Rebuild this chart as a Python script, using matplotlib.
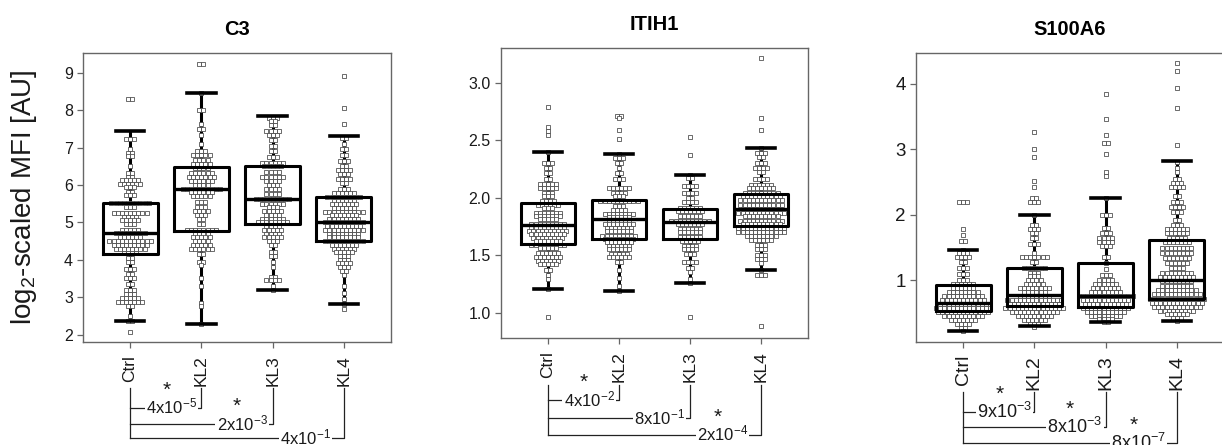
import matplotlib
matplotlib.use('Agg')
import matplotlib.pyplot as plt
import numpy as np

plt.rcParams['font.family'] = ['Liberation Sans', 'DejaVu Sans']
plt.rcParams['mathtext.fontset'] = 'custom'
plt.rcParams['mathtext.rm'] = 'Liberation Sans'
plt.rcParams['mathtext.default'] = 'regular'

groups = ['Ctrl', 'KL2', 'KL3', 'KL4']
titles = ['C3', 'ITIH1', 'S100A6']

# box statistics: lower whisker, Q1, median, Q3, upper whisker
c3_box = [[2.36, 4.16, 4.72, 5.51, 7.44],
          [2.27, 4.76, 5.89, 6.47, 8.46],
          [3.18, 4.96, 5.63, 6.51, 7.85],
          [2.82, 4.49, 5.00, 5.68, 7.32]]
itih1_box = [[1.21, 1.60, 1.76, 1.95, 2.40],
             [1.19, 1.64, 1.81, 1.98, 2.38],
             [1.26, 1.64, 1.79, 1.90, 2.20],
             [1.37, 1.75, 1.90, 2.03, 2.43]]
s100a6_box = [[0.23, 0.53, 0.66, 0.93, 1.47],
              [0.30, 0.61, 0.78, 1.19, 2.00],
              [0.36, 0.60, 0.76, 1.27, 2.25],
              [0.38, 0.71, 1.01, 1.61, 2.82]]

# beeswarm rows: value of each row and number of points in it (per group)
c3_values = [
    [8.29, 7.24, 6.95, 6.85, 6.77, 6.5, 6.33, 6.22, 6.12, 6.03, 5.95, 5.8, 5.72, 5.52, 5.42, 5.25, 5.15,
     5.05, 4.95, 4.8, 4.72, 4.62, 4.5, 4.4, 4.3, 4.18, 4.05, 3.95, 3.75, 3.62, 3.5, 3.35, 3.2, 3.08,
     2.97, 2.88, 2.75, 2.5, 2.36, 2.06],
    [9.24, 8.46, 8.0, 7.62, 7.5, 7.35, 7.1, 6.9, 6.8, 6.68, 6.56, 6.45, 6.32, 6.2, 6.1, 6.0, 5.9, 5.8, 5.7,
     5.55, 5.42, 5.3, 5.2, 5.1, 4.95, 4.8, 4.7, 4.6, 4.5, 4.4, 4.3, 4.15, 3.95, 3.85, 3.5, 3.3, 2.85,
     2.75, 2.27],
    [7.8, 7.7, 7.6, 7.45, 7.35, 7.2, 7.05, 6.9, 6.75, 6.6, 6.5, 6.35, 6.2, 6.1, 6.0, 5.9, 5.75, 5.63, 5.5,
     5.4, 5.3, 5.2, 5.1, 5.0, 4.9, 4.8, 4.7, 4.6, 4.5, 4.4, 4.2, 4.1, 3.95, 3.8, 3.55, 3.45, 3.3, 3.18],
    [8.92, 8.07, 7.62, 7.25, 7.1, 6.95, 6.8, 6.65, 6.5, 6.4, 6.3, 6.15, 6.05, 5.9, 5.78, 5.68, 5.58, 5.48,
     5.38, 5.29, 5.2, 5.1, 5.0, 4.9, 4.8, 4.7, 4.6, 4.5, 4.4, 4.3, 4.2, 4.1, 4.0, 3.9, 3.8, 3.7, 3.6,
     3.3, 3.1, 2.95, 2.82, 2.69],
]
c3_counts = [
    [2, 3, 1, 2, 2, 1, 2, 2, 5, 6, 3, 2, 3, 10, 3, 9, 4, 5, 3, 5, 8, 6, 11, 9, 8, 4, 2, 2, 3, 2, 3, 2, 3,
     3, 5, 7, 2, 1, 2, 1],
    [2, 1, 2, 1, 2, 1, 1, 3, 5, 4, 5, 4, 6, 7, 6, 4, 10, 6, 5, 3, 3, 4, 3, 2, 2, 8, 4, 5, 4, 5, 6, 2, 2,
     1, 1, 1, 1, 1, 1],
    [3, 2, 2, 4, 3, 2, 2, 2, 3, 6, 5, 4, 6, 4, 3, 4, 4, 9, 6, 3, 5, 4, 6, 8, 4, 5, 4, 5, 3, 2, 2, 2, 1, 1,
     2, 4, 1, 1],
    [1, 1, 1, 2, 1, 2, 2, 3, 2, 4, 3, 4, 2, 3, 6, 9, 6, 7, 6, 10, 7, 8, 10, 9, 10, 8, 8, 10, 7, 6, 5, 3,
     3, 4, 3, 2, 1, 1, 1, 1, 1, 1],
]
itih1_values = [
    [2.79, 2.61, 2.58, 2.54, 2.40, 2.30, 2.26, 2.21, 2.16, 2.12, 2.08, 2.04, 2.01, 1.97, 1.94, 1.91, 1.87,
     1.84, 1.81, 1.77, 1.74, 1.71, 1.68, 1.65, 1.62, 1.59, 1.56, 1.52, 1.48, 1.45, 1.42, 1.37, 1.33,
     1.29, 1.21, 0.96],
    [2.71, 2.69, 2.59, 2.51, 2.38, 2.34, 2.30, 2.26, 2.21, 2.16, 2.08, 2.04, 2.01, 1.97, 1.93, 1.89, 1.86,
     1.83, 1.80, 1.77, 1.74, 1.71, 1.67, 1.64, 1.61, 1.58, 1.55, 1.51, 1.48, 1.44, 1.37, 1.30, 1.23,
     1.19],
    [2.53, 2.37, 2.20, 2.17, 2.10, 2.04, 2.00, 1.96, 1.91, 1.88, 1.84, 1.80, 1.77, 1.73, 1.70, 1.66, 1.62,
     1.58, 1.55, 1.51, 1.44, 1.39, 1.35, 1.29, 1.26, 0.96],
    [3.21, 2.69, 2.59, 2.43, 2.39, 2.35, 2.30, 2.26, 2.22, 2.16, 2.11, 2.08, 2.04, 2.01, 1.98, 1.94, 1.90,
     1.87, 1.84, 1.80, 1.77, 1.74, 1.70, 1.67, 1.63, 1.59, 1.55, 1.50, 1.47, 1.43, 1.37, 1.33, 0.88],
]
itih1_counts = [
    [1, 1, 1, 1, 1, 3, 2, 2, 2, 5, 5, 3, 3, 4, 6, 3, 7, 7, 5, 9, 9, 10, 9, 8, 7, 9, 5, 6, 7, 6, 5, 2, 1,
     1, 1, 1],
    [2, 1, 1, 1, 1, 3, 2, 1, 2, 3, 6, 4, 3, 10, 3, 4, 8, 6, 6, 8, 7, 7, 9, 8, 7, 6, 6, 5, 6, 2, 1, 1, 1,
     1],
    [1, 1, 1, 2, 4, 4, 2, 4, 6, 7, 6, 10, 7, 6, 6, 6, 5, 4, 4, 3, 4, 2, 1, 1, 1, 1],
    [1, 1, 1, 1, 3, 2, 3, 4, 2, 4, 6, 7, 9, 10, 11, 11, 10, 12, 9, 11, 10, 12, 12, 8, 6, 3, 3, 3, 3, 1,
     1, 3, 1],
]
s100a6_values = [
    [2.19, 1.78, 1.70, 1.60, 1.47, 1.42, 1.35, 1.28, 1.19, 1.10, 1.00, 0.94, 0.88, 0.82, 0.76, 0.70, 0.64,
     0.58, 0.52, 0.46, 0.40, 0.34, 0.28, 0.23],
    [3.27, 3.00, 2.88, 2.51, 2.43, 2.25, 2.19, 2.00, 1.85, 1.79, 1.73, 1.65, 1.55, 1.42, 1.35, 1.28, 1.19,
     1.12, 1.06, 1.00, 0.94, 0.88, 0.82, 0.76, 0.70, 0.64, 0.58, 0.52, 0.46, 0.40, 0.34, 0.29],
    [3.85, 3.46, 3.22, 3.09, 2.93, 2.65, 2.60, 2.25, 2.00, 1.80, 1.73, 1.65, 1.59, 1.53, 1.35, 1.27, 1.18,
     1.08, 1.00, 0.94, 0.88, 0.82, 0.76, 0.70, 0.64, 0.58, 0.52, 0.46, 0.41, 0.36],
    [4.31, 4.20, 3.94, 3.63, 3.07, 2.80, 2.72, 2.65, 2.55, 2.48, 2.42, 2.29, 2.19, 2.12, 2.05, 1.92, 1.84,
     1.78, 1.72, 1.64, 1.58, 1.49, 1.42, 1.34, 1.26, 1.19, 1.11, 1.05, 0.99, 0.91, 0.85, 0.79, 0.72,
     0.66, 0.60, 0.54, 0.48, 0.42, 0.38],
]
s100a6_counts = [
    [3, 1, 1, 2, 1, 3, 4, 2, 3, 3, 3, 6, 6, 8, 10, 11, 12, 14, 13, 10, 7, 4, 2, 1],
    [1, 1, 1, 1, 1, 2, 3, 1, 2, 3, 2, 2, 3, 1, 7, 2, 6, 3, 3, 4, 5, 8, 6, 8, 14, 13, 15, 12, 9, 6, 3, 1],
    [1, 1, 1, 2, 1, 1, 1, 1, 3, 2, 3, 4, 4, 3, 2, 1, 1, 3, 4, 6, 7, 8, 14, 12, 11, 12, 10, 8, 4, 2],
    [1, 1, 1, 1, 1, 1, 1, 1, 2, 3, 4, 2, 3, 4, 3, 2, 3, 6, 6, 5, 7, 8, 8, 7, 6, 4, 8, 9, 8, 8, 10, 12, 14,
     13, 12, 9, 6, 3, 1],
]

# p-values vs Ctrl (mantissa, exponent) and significance marks
c3_p = [('4', '-5'), ('2', '-3'), ('4', '-1')]
itih1_p = [('4', '-2'), ('8', '-1'), ('2', '-4')]
s100a6_p = [('9', '-3'), ('8', '-3'), ('8', '-7')]
c3_sig = [True, True, False]
itih1_sig = [True, False, True]
s100a6_sig = [True, True, True]

y_limits = [(1.8, 9.53), (0.78, 3.30), (0.06, 4.47)]
y_ticks = [[2, 3, 4, 5, 6, 7, 8, 9], [1.0, 1.5, 2.0, 2.5, 3.0], [1, 2, 3, 4]]
y_ticklabels = [[str(t) for t in y_ticks[0]], ['%.1f' % t for t in y_ticks[1]], [str(t) for t in y_ticks[2]]]

panels = [
    (c3_box, c3_values, c3_counts, c3_p, c3_sig),
    (itih1_box, itih1_values, itih1_counts, itih1_p, itih1_sig),
    (s100a6_box, s100a6_values, s100a6_counts, s100a6_p, s100a6_sig),
]

# layout (pixels: left, top, width, height)
W, H = 1222, 445
axes_px = [(83, 53, 308, 289), (501, 48, 307, 290), (916, 53, 308, 289)]
ytick_size = [11.5, 11.5, 13.5]
xtick_size = [12.5, 12.5, 14]
plabel_size = [12, 12, 13]
br_top = [-0.159, -0.162, -0.173]
br_levels = [[-0.228, -0.284, -0.332], [-0.214, -0.276, -0.334], [-0.242, -0.294, -0.349]]
label_x = [1.58, 2.57, 3.46]

fig = plt.figure(figsize=(W / 100, H / 100), dpi=100)
grey = '#666666'
dx = 0.058

for p, (box, vals, cnts, pv, sig) in enumerate(panels):
    l, t, w, h = axes_px[p]
    ax = fig.add_axes([l / W, 1 - (t + h) / H, w / W, h / H])

    # beeswarm points
    for gi in range(4):
        xs, ys = [], []
        for v, n in zip(vals[gi], cnts[gi]):
            off = (np.arange(n) - (n - 1) / 2) * dx
            xs.extend(gi + 1 + off)
            ys.extend([v] * n)
        ax.plot(xs, ys, 's', ms=2.4, mfc='white', mec='#444444', mew=0.55, zorder=2)

    stats = [dict(whislo=b[0], q1=b[1], med=b[2], q3=b[3], whishi=b[4], fliers=[]) for b in box]
    art = ax.bxp(stats, positions=[1, 2, 3, 4], widths=0.77, capwidths=0.4, showfliers=False,
                 boxprops=dict(lw=2.2, color='black'),
                 whiskerprops=dict(lw=2.2, color='black'),
                 capprops=dict(lw=2.6, color='black'),
                 medianprops=dict(lw=2.4, color='black'), zorder=3)
    for wl in art['whiskers']:
        wl.set_zorder(1)

    ax.set_xlim(0.34, 4.66)
    ax.set_ylim(*y_limits[p])
    ax.set_xticks([1, 2, 3, 4])
    ax.set_xticklabels(groups, rotation=90)
    ax.set_yticks(y_ticks[p])
    ax.set_yticklabels(y_ticklabels[p])
    for s in ax.spines.values():
        s.set_color(grey)
        s.set_linewidth(1.0)
    ax.tick_params(axis='both', direction='out', length=4.3, width=0.9, color=grey, labelcolor='#1a1a1a')
    ax.tick_params(axis='y', labelsize=ytick_size[p], pad=3)
    ax.tick_params(axis='x', labelsize=xtick_size[p], pad=5)
    ax.set_title(titles[p], fontsize=14.5, fontweight='bold', pad=13)

    # comparison brackets below the axis
    tr = ax.get_xaxis_transform()
    lv = br_levels[p]
    ax.plot([1, 1], [br_top[p], lv[2]], transform=tr, clip_on=False, color='#222222', lw=0.9, zorder=4)
    for k in range(3):
        x2 = k + 2
        ax.plot([1, x2, x2], [lv[k], lv[k], br_top[p]], transform=tr, clip_on=False,
                color='#222222', lw=0.9, zorder=4)
        m, e = pv[k]
        ax.text(label_x[k], lv[k] - 6 / h, m + 'x10$^{' + e + '}$', transform=tr, ha='center',
                va='baseline', fontsize=plabel_size[p], color='#1a1a1a', zorder=5,
                bbox=dict(facecolor='white', edgecolor='none', pad=0.8))
        if sig[k]:
            ax.text(label_x[k] - 0.07, lv[k] + 12 / h, '*', transform=tr, ha='center', va='baseline',
                    fontsize=15, color='#1a1a1a', zorder=5)

fig.text(24 / W, 1 - 197.5 / H, 'log$_2$-scaled MFI [AU]', rotation=90, ha='center', va='center',
         fontsize=20, color='#1a1a1a')

fig.savefig('out.png', dpi=100)
